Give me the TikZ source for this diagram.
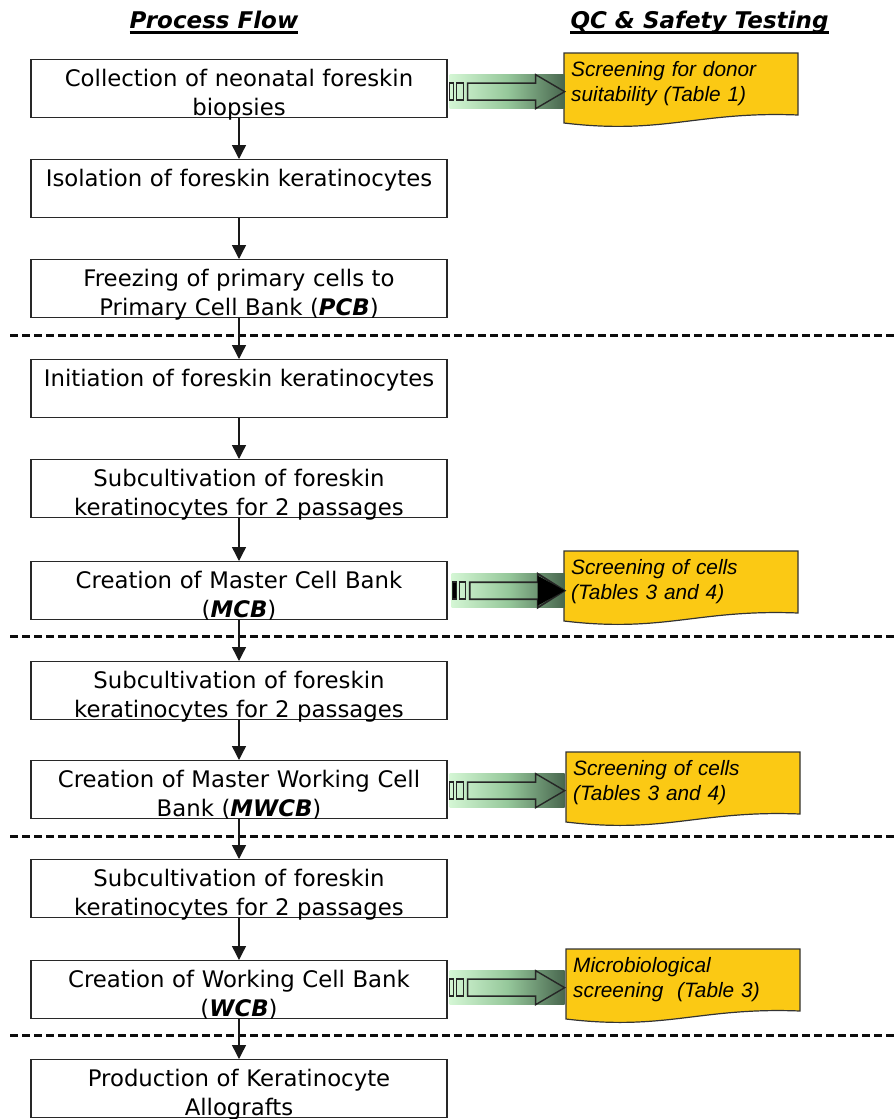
\documentclass[tikz,border=0pt]{standalone}
\usepackage{fontspec}
\setmainfont{DejaVu Sans}
\newfontfamily\docfont{Liberation Sans}
\usetikzlibrary{arrows.meta,calc}
\definecolor{boxline}{RGB}{40,40,40}
\definecolor{docfill}{RGB}{251,201,20}
\definecolor{arlight}{RGB}{212,246,212}
\definecolor{armid}{RGB}{150,200,155}
\definecolor{ardark}{RGB}{72,102,78}
\tikzset{
  procbox/.style={draw=boxline, line width=1.3pt, rectangle, anchor=north,
    inner xsep=0pt, inner ysep=0pt, text width=416pt, align=center,
    text height=26.5pt, text depth=31.5pt,
    font=\fontsize{22.8}{29}\selectfont},
  flow/.style={draw=black!90, line width=1.4pt, -{Triangle[length=14pt,width=14pt]}},
  sepline/.style={draw=black!95, line width=3pt, dash pattern=on 8pt off 4pt},
  headtext/.style={anchor=base, inner sep=0pt, font=\fontsize{23}{23}\selectfont\bfseries\itshape},
  doctext/.style={anchor=base west, inner sep=0pt, text width=225pt, align=left,
    font=\docfont\itshape\fontsize{20.8}{25.5}\selectfont},
  docshape/.style={draw=black!80, line width=1.2pt, fill=docfill},
  arline/.style={draw=black!85, line width=1.4pt, line join=miter},
  stripearrow/.pic={
    \shade[left color=arlight, right color=ardark, middle color=armid] (2,-17) rectangle (117,17);
    \draw[arline] (2,-8.5) rectangle (6,8.5);
    \draw[arline] (9,-8.5) rectangle (16,8.5);
    \draw[arline] (20,-8.5) -- (88,-8.5) -- (88,-17) -- (117,0) -- (88,17) -- (88,8.5) -- (20,8.5) -- cycle;
  },
  stripearrowdark/.pic={
    \shade[left color=arlight, right color=ardark, middle color=armid] (4,-17) rectangle (117,17);
    \draw[arline, fill=black] (5,-8.5) rectangle (9,8.5);
    \draw[arline] (12,-8.5) rectangle (18,8.5);
    \draw[arline, line width=1.8pt] (22,-8.5) -- (90,-8.5) -- (90,-17) -- (117,0) -- (90,17) -- (90,8.5) -- (22,8.5) -- cycle;
    \fill[black] (90,-15) -- (117,0) -- (90,15) -- cycle;
  },
  docpic/.pic={
    \draw[docshape] (0,0) -- (234,0) -- (234,62) .. controls (134,58) and (100,82) .. (0,70) -- cycle;
  },
}
\begin{document}
\begin{tikzpicture}[x=1pt,y=-1pt]
\useasboundingbox (0,0) rectangle (895,1119);

% headings
\node[headtext] (h1) at (214,28) {Process Flow};
\node[headtext] (h2) at (699.5,28) {QC \& Safety Testing};
\draw[line width=2.6pt] ([yshift=-4.2pt]h1.base west) -- ([yshift=-4.2pt]h1.base east);
\draw[line width=2.6pt] ([yshift=-4.2pt]h2.base west) -- ([yshift=-4.2pt]h2.base east);

% separators
\draw[sepline] (10,335) -- (895,335);
\draw[sepline] (10,636) -- (895,636);
\draw[sepline] (10,836) -- (895,836);
\draw[sepline] (10,1035) -- (895,1035);

% process boxes
\node[procbox] (b1) at (239,59) {Collection of neonatal foreskin\\biopsies};
\node[procbox] (b2) at (239,159) {Isolation of foreskin keratinocytes};
\node[procbox] (b3) at (239,259) {Freezing of primary cells to\\Primary Cell Bank (\textbf{\textit{PCB}})};
\node[procbox] (b4) at (239,359) {Initiation of foreskin keratinocytes};
\node[procbox] (b5) at (239,459) {Subcultivation of foreskin\\keratinocytes for 2 passages};
\node[procbox] (b6) at (239,561) {Creation of Master Cell Bank\\(\textbf{\textit{MCB}})};
\node[procbox] (b7) at (239,661) {Subcultivation of foreskin\\keratinocytes for 2 passages};
\node[procbox] (b8) at (239,760) {Creation of Master Working Cell\\Bank (\textbf{\textit{MWCB}})};
\node[procbox] (b9) at (239,859) {Subcultivation of foreskin\\keratinocytes for 2 passages};
\node[procbox] (b10) at (239,960) {Creation of Working Cell Bank\\(\textbf{\textit{WCB}})};
\node[procbox] (b11) at (239,1059) {Production of Keratinocyte\\Allografts};

% flow arrows
\foreach \a/\b in {b1/b2,b2/b3,b3/b4,b4/b5,b5/b6,b6/b7,b7/b8,b8/b9,b9/b10,b10/b11}
  \draw[flow] (\a.south) -- (\b.north);

% QC documents
\pic at (564,53) {docpic};
\pic at (564,551) {docpic};
\pic at (566,752) {docpic};
\pic at (566,949) {docpic};
\node[doctext] (d1) at (571,76) {Screening for donor\\suitability (Table 1)};
\node[doctext] (d2) at (571,574) {Screening of cells\\(Tables 3 and 4)};
\node[doctext] (d3) at (573,775) {Screening of cells\\(Tables 3 and 4)};
\node[doctext] (d4) at (573,972) {Microbiological\\screening\ \ (Table 3)};

% striped arrows
\pic at ($(b1.east)+(0,3)$) {stripearrow};
\pic at ($(b6.east)+(0,0)$) {stripearrowdark};
\pic at ($(b8.east)+(0,1)$) {stripearrow};
\pic at ($(b10.east)+(0,-2)$) {stripearrow};
\end{tikzpicture}
\end{document}
